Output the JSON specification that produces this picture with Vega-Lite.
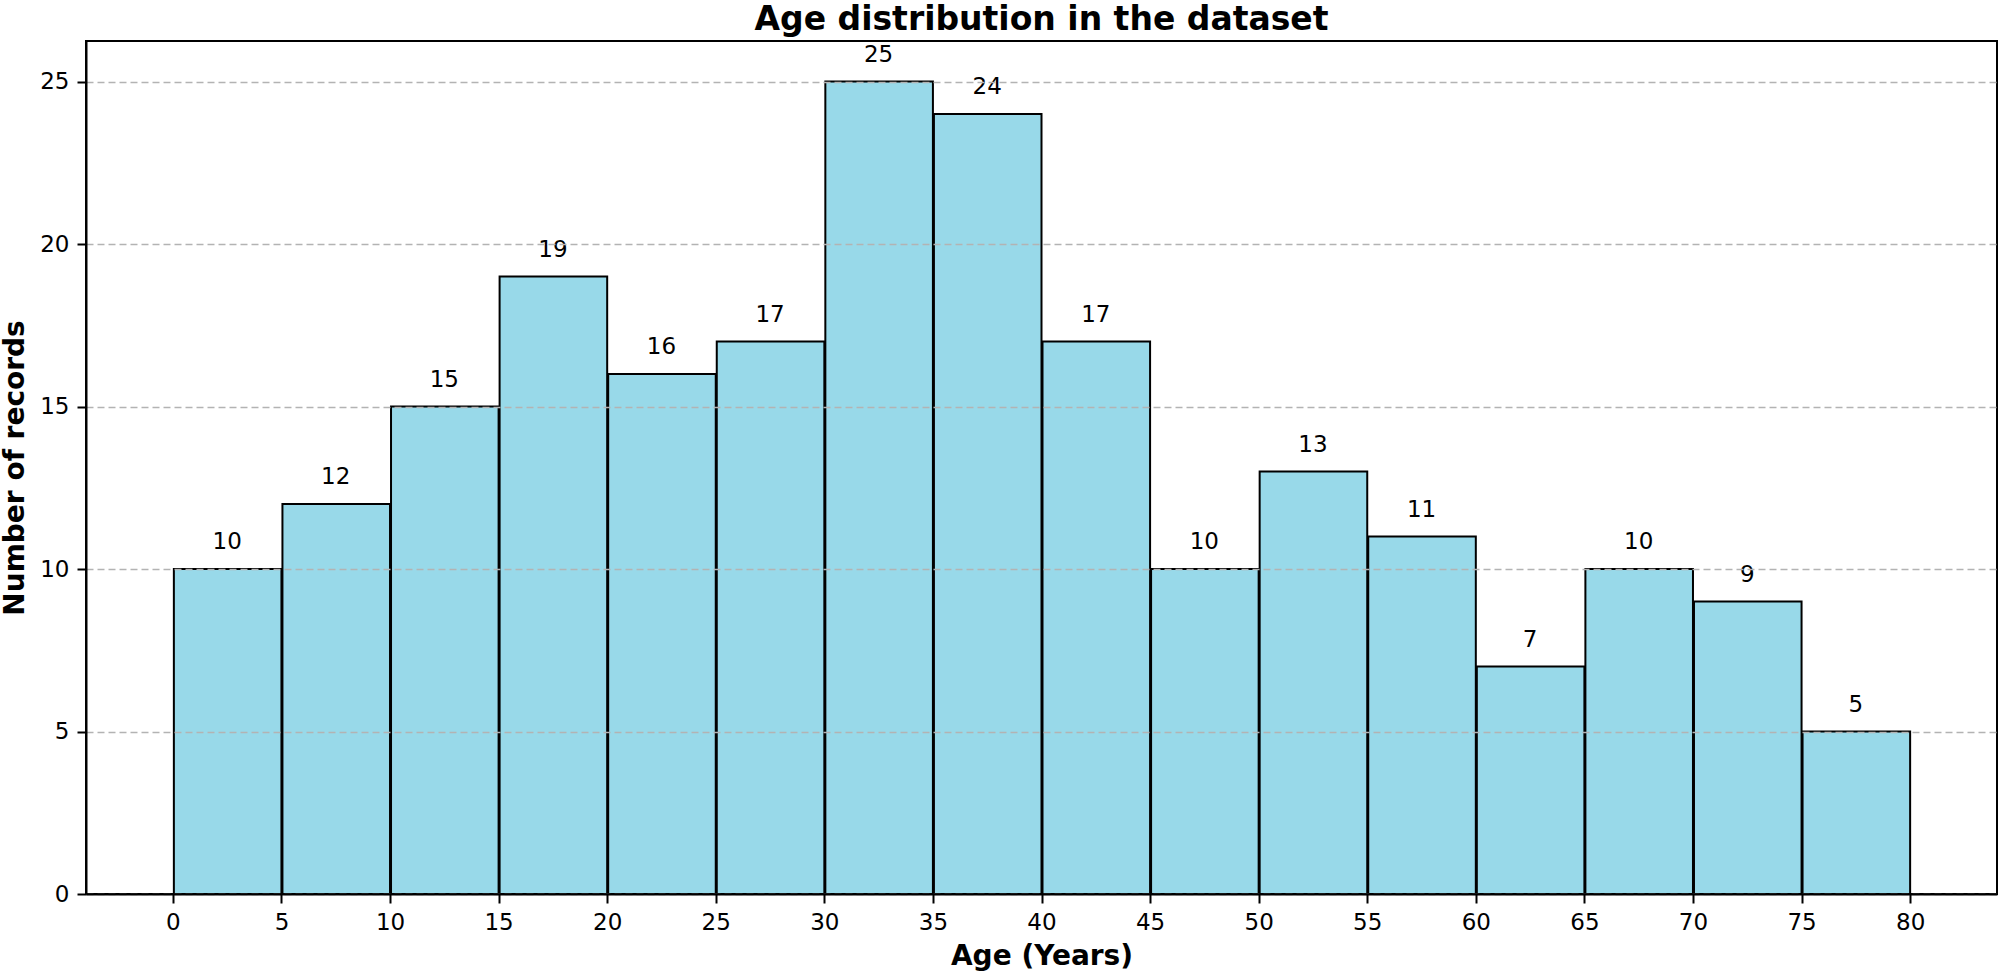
{
  "$schema": "https://vega.github.io/schema/vega-lite/v6.json",
  "autosize": "none",
  "padding": {"left": 86, "top": 41, "right": 3, "bottom": 79},
  "width": 1911,
  "height": 853,
  "background": "white",
  "title": {
    "text": "Age distribution in the dataset",
    "font": "DejaVu Sans",
    "fontSize": 33,
    "fontWeight": "bold",
    "color": "black",
    "anchor": "middle",
    "frame": "group",
    "baseline": "alphabetic",
    "offset": -22
  },
  "config": {
    "font": "DejaVu Sans",
    "view": {"stroke": "black", "strokeWidth": 2},
    "axis": {
      "labelFont": "DejaVu Sans",
      "labelFontSize": 23,
      "labelColor": "black",
      "titleFont": "DejaVu Sans",
      "titleFontSize": 28,
      "titleFontWeight": "bold",
      "titleColor": "black",
      "tickColor": "black",
      "tickSize": 9,
      "tickWidth": 2,
      "domainColor": "black",
      "domainWidth": 2
    }
  },
  "data": {
    "values": [
      {"age_start": 0, "age_end": 5, "count": 10},
      {"age_start": 5, "age_end": 10, "count": 12},
      {"age_start": 10, "age_end": 15, "count": 15},
      {"age_start": 15, "age_end": 20, "count": 19},
      {"age_start": 20, "age_end": 25, "count": 16},
      {"age_start": 25, "age_end": 30, "count": 17},
      {"age_start": 30, "age_end": 35, "count": 25},
      {"age_start": 35, "age_end": 40, "count": 24},
      {"age_start": 40, "age_end": 45, "count": 17},
      {"age_start": 45, "age_end": 50, "count": 10},
      {"age_start": 50, "age_end": 55, "count": 13},
      {"age_start": 55, "age_end": 60, "count": 11},
      {"age_start": 60, "age_end": 65, "count": 7},
      {"age_start": 65, "age_end": 70, "count": 10},
      {"age_start": 70, "age_end": 75, "count": 9},
      {"age_start": 75, "age_end": 80, "count": 5}
    ]
  },
  "layer": [
    {
      "mark": {"type": "bar", "color": "#98D9E9", "stroke": "black", "strokeWidth": 2},
      "encoding": {
        "x": {
          "field": "age_start",
          "type": "quantitative",
          "bin": {"binned": true, "step": 5},
          "scale": {"domain": [-4, 84], "nice": false, "zero": false},
          "axis": {
            "values": [0, 5, 10, 15, 20, 25, 30, 35, 40, 45, 50, 55, 60, 65, 70, 75, 80],
            "grid": false,
            "zindex": 2,
            "labelPadding": 8,
            "titlePadding": 8
          },
          "title": "Age (Years)"
        },
        "x2": {"field": "age_end"},
        "y": {
          "field": "count",
          "type": "quantitative",
          "scale": {"domain": [0, 26.25], "nice": false},
          "axis": {
            "values": [0, 5, 10, 15, 20, 25],
            "grid": true,
            "gridColor": "#b3b3b3",
            "gridDash": [7, 4],
            "gridWidth": 1.4,
            "zindex": 1,
            "labelPadding": 8,
            "titlePadding": 10
          },
          "title": "Number of records"
        }
      }
    },
    {
      "transform": [{"calculate": "(datum.age_start + datum.age_end) / 2", "as": "age_mid"}],
      "mark": {"type": "text", "fontSize": 23, "color": "black", "baseline": "alphabetic", "dy": -20},
      "encoding": {
        "x": {"field": "age_mid", "type": "quantitative"},
        "y": {"field": "count", "type": "quantitative"},
        "text": {"field": "count", "type": "quantitative"}
      }
    }
  ]
}
